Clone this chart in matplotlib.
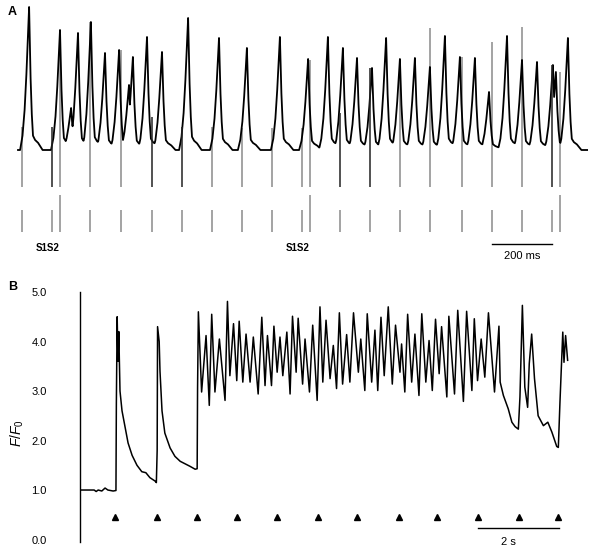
import numpy as np
import matplotlib
matplotlib.use('Agg')
import matplotlib.pyplot as plt

plt.rcParams['font.family'] = ['Liberation Sans', 'DejaVu Sans']
plt.rcParams['mathtext.fontset'] = 'custom'
plt.rcParams['mathtext.it'] = 'Liberation Sans:italic'
plt.rcParams['mathtext.rm'] = 'Liberation Sans'

# ---- Panel A: electrogram (time in ms, amplitude in arbitrary units) ----
beat_ms = [37, 140, 177, 200, 243, 290, 337, 370, 383, 430, 480, 567, 670, 763,
           873, 967, 1033, 1083, 1130, 1180, 1227, 1273, 1323, 1373, 1423, 1473,
           1523, 1570, 1630, 1680, 1730, 1783, 1793, 1833]
beat_amp = [143, 120, 42, 117, 128, 97, 100, 65, 93, 113, 98, 132, 112, 102,
            113, 91, 113, 102, 92, 82, 112, 91, 92, 83, 114, 93,
            92, 58, 114, 90, 88, 85, 78, 112]
trace_end_ms = 1897

# stimulus times (S1 train and premature S2)
s1_ms = [13, 113, 240, 343, 447, 547, 647, 747, 847, 947, 1073, 1173, 1273,
         1373, 1480, 1580, 1680, 1780]
s2_ms = [140, 973, 1807]
s1_artifact_top = [23, 23, 128, 100, 33, 23, 23, 22, 22, 22, 37, 82, 91, 122,
                   93, 108, 123, 85]
s1_artifact_dark = [False, True, False, False, True, True, False, False, False,
                    False, True, True, False, False, False, False, False, True]
s2_artifact_top = [120, 90, 78]

# beat waveform (offset in ms, fraction of peak)
spike_dt = np.array([-30, -22, -15, -10, -6, -3, 0, 2, 5, 9, 13, 20, 30, 45])
spike_frac = np.array([0, 0.1, 0.28, 0.48, 0.68, 0.84, 1.0, 0.8, 0.5, 0.25,
                       0.1, 0.07, 0.05, 0.0])

# ---- Panel B: calcium transient F/F0 (time in s) ----
b_time = [0.00, 0.35, 0.40, 0.45, 0.54, 0.62, 0.69, 0.82, 0.89, 0.90, 0.92, 0.94,
          0.96, 0.99, 1.04, 1.11, 1.19, 1.29, 1.41, 1.53, 1.63, 1.73, 1.86, 1.89,
          1.91, 1.92, 1.96, 1.98, 2.03, 2.10, 2.23, 2.35, 2.48, 2.60, 2.72, 2.85,
          2.90, 2.91,
          2.93, 3.01, 3.12, 3.20, 3.26, 3.34, 3.45, 3.59, 3.65, 3.71, 3.80, 3.88,
          3.94, 4.03, 4.11, 4.21, 4.29, 4.41, 4.50, 4.58, 4.64, 4.74, 4.80, 4.88,
          4.95, 5.02, 5.12, 5.20, 5.26, 5.35, 5.40, 5.51, 5.57, 5.68, 5.76, 5.87,
          5.94, 6.01, 6.09, 6.19, 6.27, 6.35, 6.42, 6.50, 6.60, 6.68, 6.77, 6.89,
          6.95, 7.05, 7.11, 7.22, 7.30, 7.37, 7.45, 7.53, 7.63, 7.73, 7.81, 7.92,
          7.96, 8.04, 8.11, 8.21, 8.29, 8.39, 8.46, 8.56, 8.64, 8.72, 8.80, 8.89,
          8.95, 9.08, 9.13, 9.27, 9.35, 9.49, 9.57, 9.70, 9.76, 9.84, 9.93, 10.02,
          10.11, 10.26, 10.37, 10.40,
          10.48, 10.60, 10.69, 10.77, 10.85, 10.89, 10.95, 11.01, 11.08, 11.12,
          11.18, 11.25, 11.34, 11.47, 11.58, 11.68, 11.80, 11.84, 11.88, 11.95,
          11.98, 12.02, 12.07]
b_ratio = [1.0, 1.0, 0.97, 1.0, 0.98, 1.04, 1.0, 0.98, 0.99, 2.75, 4.5, 3.6,
           4.2, 3.0, 2.6, 2.3, 1.95, 1.7, 1.5, 1.37, 1.35, 1.25, 1.18, 1.15,
           1.8, 4.3, 4.0, 3.4, 2.6, 2.15, 1.85, 1.68, 1.58, 1.53, 1.48, 1.42,
           1.43, 3.05,
           4.60, 2.98, 4.12, 2.71, 4.55, 2.98, 4.05, 2.81, 4.81, 3.31, 4.36, 3.21,
           4.41, 3.18, 4.15, 3.18, 4.09, 2.94, 4.49, 3.11, 4.12, 3.11, 4.31, 3.38,
           4.09, 3.31, 4.19, 2.94, 4.51, 3.38, 4.47, 3.14, 4.05, 2.98, 4.33, 2.81,
           4.70, 3.18, 4.43, 3.25, 3.92, 3.05, 4.58, 3.14, 4.14, 3.18, 4.58, 3.38,
           4.05, 3.01, 4.56, 3.18, 4.23, 3.01, 4.49, 3.31, 4.70, 3.14, 4.33, 3.38,
           3.95, 2.98, 4.55, 3.18, 4.15, 2.91, 4.56, 3.18, 4.02, 3.01, 4.45, 3.35,
           4.30, 2.88, 4.51, 2.94, 4.63, 2.79, 4.61, 3.01, 4.46, 3.21, 4.05, 3.28,
           4.58, 2.98, 4.31, 3.18,
           2.91, 2.64, 2.37, 2.28, 2.23, 2.88, 4.73, 3.08, 2.67, 3.55,
           4.15, 3.25, 2.50, 2.30, 2.37, 2.17, 1.88, 1.86, 2.77, 4.19,
           3.58, 4.12, 3.62]
b_stim_s = [0.87, 1.90, 2.89, 3.88, 4.87, 5.89, 6.86, 7.90, 8.84, 9.85, 10.86, 11.83]
b_yticks = [0.0, 1.0, 2.0, 3.0, 4.0, 5.0]

fig = plt.figure(figsize=(5.95, 5.51), dpi=100)

# ---------------- Panel A ----------------
axA = fig.add_axes([0, 1 - 260 / 551, 1, 260 / 551])
axA.set_xlim(-60, 1923.3)
axA.set_ylim(-110, 150)
axA.axis('off')

t_grid = np.arange(0, trace_end_ms + 1, 1.0)
trace = np.full_like(t_grid, -3.0)
for t0, amp in zip(beat_ms, beat_amp):
    wave = np.interp(t_grid, t0 + spike_dt, spike_frac * amp, left=0, right=0)
    trace = np.maximum(trace, wave)

dark = [t for t, d in zip(s1_ms, s1_artifact_dark) if d]
dark_top = [h for h, d in zip(s1_artifact_top, s1_artifact_dark) if d]
light = [t for t, d in zip(s1_ms, s1_artifact_dark) if not d]
light_top = [h for h, d in zip(s1_artifact_top, s1_artifact_dark) if not d]
axA.vlines(light, -37, light_top, colors='#8a8a8a', lw=1.1, zorder=1)
axA.vlines(s2_ms, -37, s2_artifact_top, colors='#8a8a8a', lw=1.1, zorder=1)
axA.plot(t_grid, trace, color='black', lw=1.3, zorder=2)
axA.vlines(dark, -37, dark_top, colors='#222222', lw=1.1, zorder=3)

# stimulus markers
axA.vlines(s1_ms, -82, -60, colors='#8a8a8a', lw=1.1)
axA.vlines(s2_ms, -82, -45, colors='#8a8a8a', lw=1.1)
axA.text(100, -98, 'S1S2', fontsize=7, fontweight='bold', ha='center', va='center')
axA.text(933, -98, 'S1S2', fontsize=7, fontweight='bold', ha='center', va='center')

# 200 ms scale bar
axA.plot([1580, 1780], [-94, -94], color='black', lw=1.0)
axA.text(1680, -106, '200 ms', fontsize=8, ha='center', va='center')

fig.text(8 / 595, 1 - 12 / 551, 'A', fontsize=9, fontweight='bold', ha='left', va='center')

# ---------------- Panel B ----------------
axB = fig.add_axes([80 / 595, 1 - 542 / 551, 500 / 595, 250 / 551])
axB.set_xlim(0, 500 / 40.4)
axB.set_ylim(-0.05, 5.0)
axB.plot(b_time, b_ratio, color='black', lw=1.1)
axB.plot(b_stim_s, [0.45] * len(b_stim_s), '^', color='black', ms=5)

axB.plot([9.85, 11.86], [0.24, 0.24], color='black', lw=1.0, clip_on=False)
axB.text(10.6, -0.05, '2 s', fontsize=8, ha='center', va='center', clip_on=False)

for side in ['top', 'right', 'bottom']:
    axB.spines[side].set_visible(False)
axB.spines['left'].set_linewidth(1.0)
axB.set_xticks([])
axB.set_yticks(b_yticks)
axB.set_yticklabels(['%.1f' % v for v in b_yticks], fontsize=8)
axB.tick_params(axis='y', length=0, pad=24)

fig.text(17 / 595, 1 - 433 / 551, r'$F/F_0$', fontsize=10, rotation=90,
         ha='center', va='center')
fig.text(8 / 595, 1 - 287 / 551, 'B', fontsize=9, fontweight='bold', ha='left', va='center')

fig.savefig('out.png', dpi=100)
